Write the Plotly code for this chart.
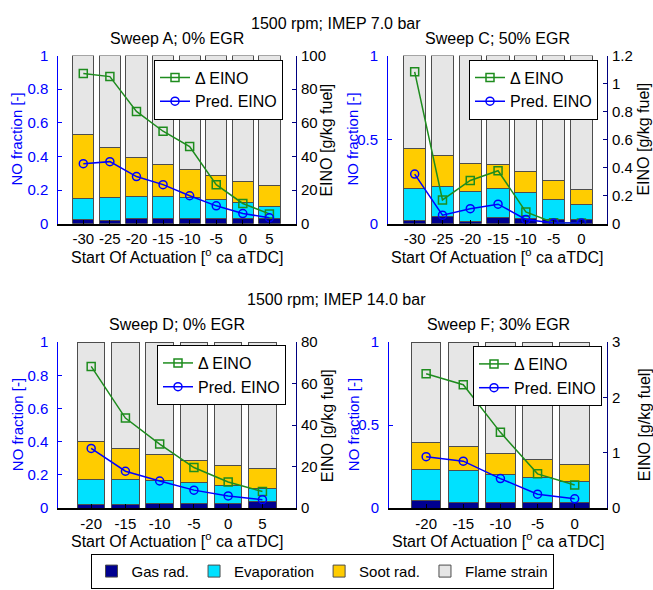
import plotly.graph_objects as go

# ---------------- data ----------------
soa_A = [-30, -25, -20, -15, -10, -5, 0, 5]
gas_A = [0.023, 0.019, 0.029, 0.029, 0.029, 0.029, 0.033, 0.029]
evap_A = [0.127, 0.135, 0.131, 0.131, 0.125, 0.112, 0.092, 0.073]
soot_A = [0.380, 0.302, 0.232, 0.193, 0.170, 0.143, 0.128, 0.126]
flame_A = [0.470, 0.544, 0.608, 0.647, 0.676, 0.716, 0.747, 0.772]
deino_A = [89.4, 87.5, 66.8, 55.0, 45.9, 23.2, 12.0, 5.8]
pred_A = [35.7, 36.9, 28.0, 23.2, 16.6, 10.6, 6.0, 3.5]

soa_C = [-30, -25, -20, -15, -10, -5, 0]
gas_C = [0.019, 0.042, 0.014, 0.035, 0.029, 0.025, 0.025]
evap_C = [0.189, 0.180, 0.175, 0.173, 0.154, 0.120, 0.091]
soot_C = [0.238, 0.183, 0.168, 0.145, 0.126, 0.110, 0.089]
flame_C = [0.554, 0.595, 0.643, 0.647, 0.691, 0.745, 0.795]
deino_C = [1.084, 0.169, 0.308, 0.378, 0.083, 0.007, 0.005]
pred_C = [0.354, 0.060, 0.107, 0.139, 0.030, 0.005, 0.005]

soa_D = [-20, -15, -10, -5, 0, 5]
gas_D = [0.025, 0.025, 0.031, 0.031, 0.031, 0.039]
evap_D = [0.150, 0.145, 0.135, 0.121, 0.104, 0.082]
soot_D = [0.227, 0.187, 0.156, 0.135, 0.124, 0.115]
flame_D = [0.598, 0.643, 0.678, 0.713, 0.741, 0.764]
deino_D = [68.3, 43.4, 30.9, 19.6, 12.6, 8.0]
pred_D = [28.8, 17.8, 13.1, 8.7, 5.9, 4.1]

soa_F = [-20, -15, -10, -5, 0]
gas_F = [0.045, 0.037, 0.037, 0.033, 0.033]
evap_F = [0.186, 0.187, 0.165, 0.149, 0.128]
soot_F = [0.167, 0.145, 0.129, 0.110, 0.104]
flame_F = [0.602, 0.631, 0.669, 0.708, 0.735]
deino_F = [2.43, 2.23, 1.37, 0.62, 0.42]
pred_F = [0.93, 0.85, 0.535, 0.253, 0.17]

component_names = ["Gas rad.", "Evaporation", "Soot rad.", "Flame strain"]
line_names = ["\u0394 EINO", "Pred. EINO"]
panel_titles = ["Sweep A; 0% EGR", "Sweep C; 50% EGR", "Sweep D; 0% EGR", "Sweep F; 30% EGR"]
row_titles = ["1500 rpm; IMEP 7.0 bar", "1500 rpm; IMEP 14.0 bar"]

# ---------------- style ----------------
W, H = 653, 590
FONT = "Liberation Sans, Arial, sans-serif"
FS_TICK = 15
FS_TITLE = 16
FS_LEG = 16
comp_colors = ["#000090", "#00E1FF", "#FFCC00", "#E6E6E6"]
GREEN = "#1E8C1E"
BLUE = "#0000FF"
NAVY = "#000080"

def px_x(p):
    return p / W

def px_y(p):
    return 1 - p / H

panels = [
    dict(soa=soa_A, comps=[gas_A, evap_A, soot_A, flame_A], de=deino_A, pr=pred_A,
         xpx=(58.3, 296), ypx=(48, 221), xr=[-34.7, 10], yr2=[0, 100], dt2=20,
         ltick=[0, 0.2, 0.4, 0.6, 0.8, 1], leg=(154, 52)),
    dict(soa=soa_C, comps=[gas_C, evap_C, soot_C, flame_C], de=deino_C, pr=pred_C,
         xpx=(388, 607), ypx=(48, 221), xr=[-34.8, 4.6], yr2=[0, 1.2], dt2=0.2,
         ltick=[0, 0.5, 1], leg=(469, 52)),
    dict(soa=soa_D, comps=[gas_D, evap_D, soot_D, flame_D], de=deino_D, pr=pred_D,
         xpx=(58.3, 296), ypx=(343, 514), xr=[-24.8, 9.9], yr2=[0, 80], dt2=20,
         ltick=[0, 0.2, 0.4, 0.6, 0.8, 1], leg=(157, 346)),
    dict(soa=soa_F, comps=[gas_F, evap_F, soot_F, flame_F], de=deino_F, pr=pred_F,
         xpx=(389, 607), ypx=(343, 514), xr=[-25, 4.35], yr2=[0, 3], dt2=1,
         ltick=[0, 0.5, 1], leg=(473, 347)),
]

fig = go.Figure()
layout = dict(
    width=W, height=H, margin=dict(l=0, r=0, t=0, b=0),
    paper_bgcolor="white", plot_bgcolor="white",
    font=dict(family=FONT, size=FS_TICK, color="black"),
    barmode="stack", bargap=0.2,
    showlegend=True,
)
annotations = []

for i, p in enumerate(panels):
    k = i + 1
    xa = "x" if k == 1 else f"x{k}"
    ya = "y" if k == 1 else f"y{k}"
    ya2 = f"y{k + 4}"
    legname = f"legend{k + 1}"

    for j, (vals, name, col) in enumerate(zip(p["comps"], component_names, comp_colors)):
        fig.add_trace(go.Bar(
            x=p["soa"], y=vals, name=name, xaxis=xa, yaxis=ya,
            marker=dict(color=col, line=dict(color="#4d4d4d", width=1)),
            width=4, showlegend=(i == 0), legend="legend",
            offsetgroup=f"g{k}",
        ))
    fig.add_trace(go.Scatter(
        x=p["soa"], y=p["de"], name=line_names[0], xaxis=xa, yaxis=ya2,
        mode="lines+markers", line=dict(color=GREEN, width=1.5),
        marker=dict(symbol="square-open", size=8, color=GREEN, line=dict(width=1.5)),
        legend=legname,
    ))
    fig.add_trace(go.Scatter(
        x=p["soa"], y=p["pr"], name=line_names[1], xaxis=xa, yaxis=ya2,
        mode="lines+markers", line=dict(color=BLUE, width=1.5),
        marker=dict(symbol="circle-open", size=8, color=BLUE, line=dict(width=1.5)),
        legend=legname,
    ))

    xd = [px_x(p["xpx"][0]), px_x(p["xpx"][1])]
    yd = [px_y(p["ypx"][1]), px_y(p["ypx"][0])]
    xkey = "xaxis" if k == 1 else f"xaxis{k}"
    ykey = "yaxis" if k == 1 else f"yaxis{k}"
    layout[xkey] = dict(
        domain=xd, anchor=ya, range=p["xr"], tickvals=p["soa"],
        ticktext=[str(v) for v in p["soa"]],
        showline=True, linecolor="black", linewidth=1.5,
        ticks="inside", ticklen=4, tickcolor="black",
        showgrid=False, zeroline=False, fixedrange=True,
        tickfont=dict(size=FS_TICK, color="black"), ticklabelstandoff=1,
    )
    layout[ykey] = dict(
        domain=yd, anchor=xa, range=[0, 1], tickvals=p["ltick"],
        ticktext=[f"{v:g}" for v in p["ltick"]],
        showline=True, linecolor=BLUE, linewidth=1,
        ticks="inside", ticklen=4, tickcolor=BLUE,
        showgrid=False, zeroline=False,
        tickfont=dict(size=FS_TICK, color=BLUE), ticklabelstandoff=6,
    )
    n = int(round(p["yr2"][1] / p["dt2"]))
    rt = [round(j * p["dt2"], 3) for j in range(n + 1)]
    layout[f"yaxis{k + 4}"] = dict(
        overlaying=ya, side="right", anchor=xa, range=p["yr2"], tickvals=rt,
        ticktext=[f"{v:g}" for v in rt],
        showline=True, linecolor=NAVY, linewidth=1,
        ticks="inside", ticklen=4, tickcolor=NAVY,
        showgrid=False, zeroline=False,
        tickfont=dict(size=FS_TICK, color="black"), ticklabelstandoff=1,
    )
    layout[legname] = dict(
        x=px_x(p["leg"][0]), y=px_y(p["leg"][1]), xanchor="left", yanchor="top",
        bgcolor="white", bordercolor="black", borderwidth=1,
        font=dict(size=FS_LEG, family=FONT), itemwidth=30, tracegroupgap=0,
    )

    xc = (p["xpx"][0] + p["xpx"][1]) / 2
    # panel title
    annotations.append(dict(text=panel_titles[i], x=px_x(xc), y=px_y(p["ypx"][0] - 18),
                            xref="paper", yref="paper", showarrow=False,
                            xanchor="center", yanchor="middle", font=dict(size=FS_TITLE)))
    # x-axis title
    annotations.append(dict(text="Start Of Actuation [<sup>o</sup> ca aTDC]", x=px_x(xc),
                            y=px_y(p["ypx"][1] + 33), xref="paper", yref="paper",
                            showarrow=False, xanchor="center", yanchor="middle",
                            font=dict(size=FS_TITLE)))
    # left y title
    yc = (p["ypx"][0] + p["ypx"][1]) / 2
    lx = 17 if p["xpx"][0] < 100 else 353
    annotations.append(dict(text="NO fraction [-]", x=px_x(lx), y=px_y(yc),
                            xref="paper", yref="paper", showarrow=False, textangle=-90,
                            xanchor="center", yanchor="middle",
                            font=dict(size=15, color=BLUE)))
    rx = 327 if p["xpx"][0] < 100 else 644
    annotations.append(dict(text="EINO [g/kg fuel]", x=px_x(rx), y=px_y(yc),
                            xref="paper", yref="paper", showarrow=False, textangle=-90,
                            xanchor="center", yanchor="middle",
                            font=dict(size=FS_TITLE, color="black")))

for r, (t, ypx) in enumerate(zip(row_titles, [15, 299])):
    annotations.append(dict(text=t, x=px_x(336), y=px_y(ypx), xref="paper", yref="paper",
                            showarrow=False, xanchor="center", yanchor="middle",
                            font=dict(size=FS_TITLE)))

layout["legend"] = dict(
    orientation="h", x=px_x(322), y=px_y(561), xanchor="center", yanchor="top",
    bgcolor="white", bordercolor="black", borderwidth=1, traceorder="normal",
    font=dict(size=15, family=FONT), itemwidth=30,
)
layout["annotations"] = annotations
fig.update_layout(**layout)
fig.write_html("out.html")
